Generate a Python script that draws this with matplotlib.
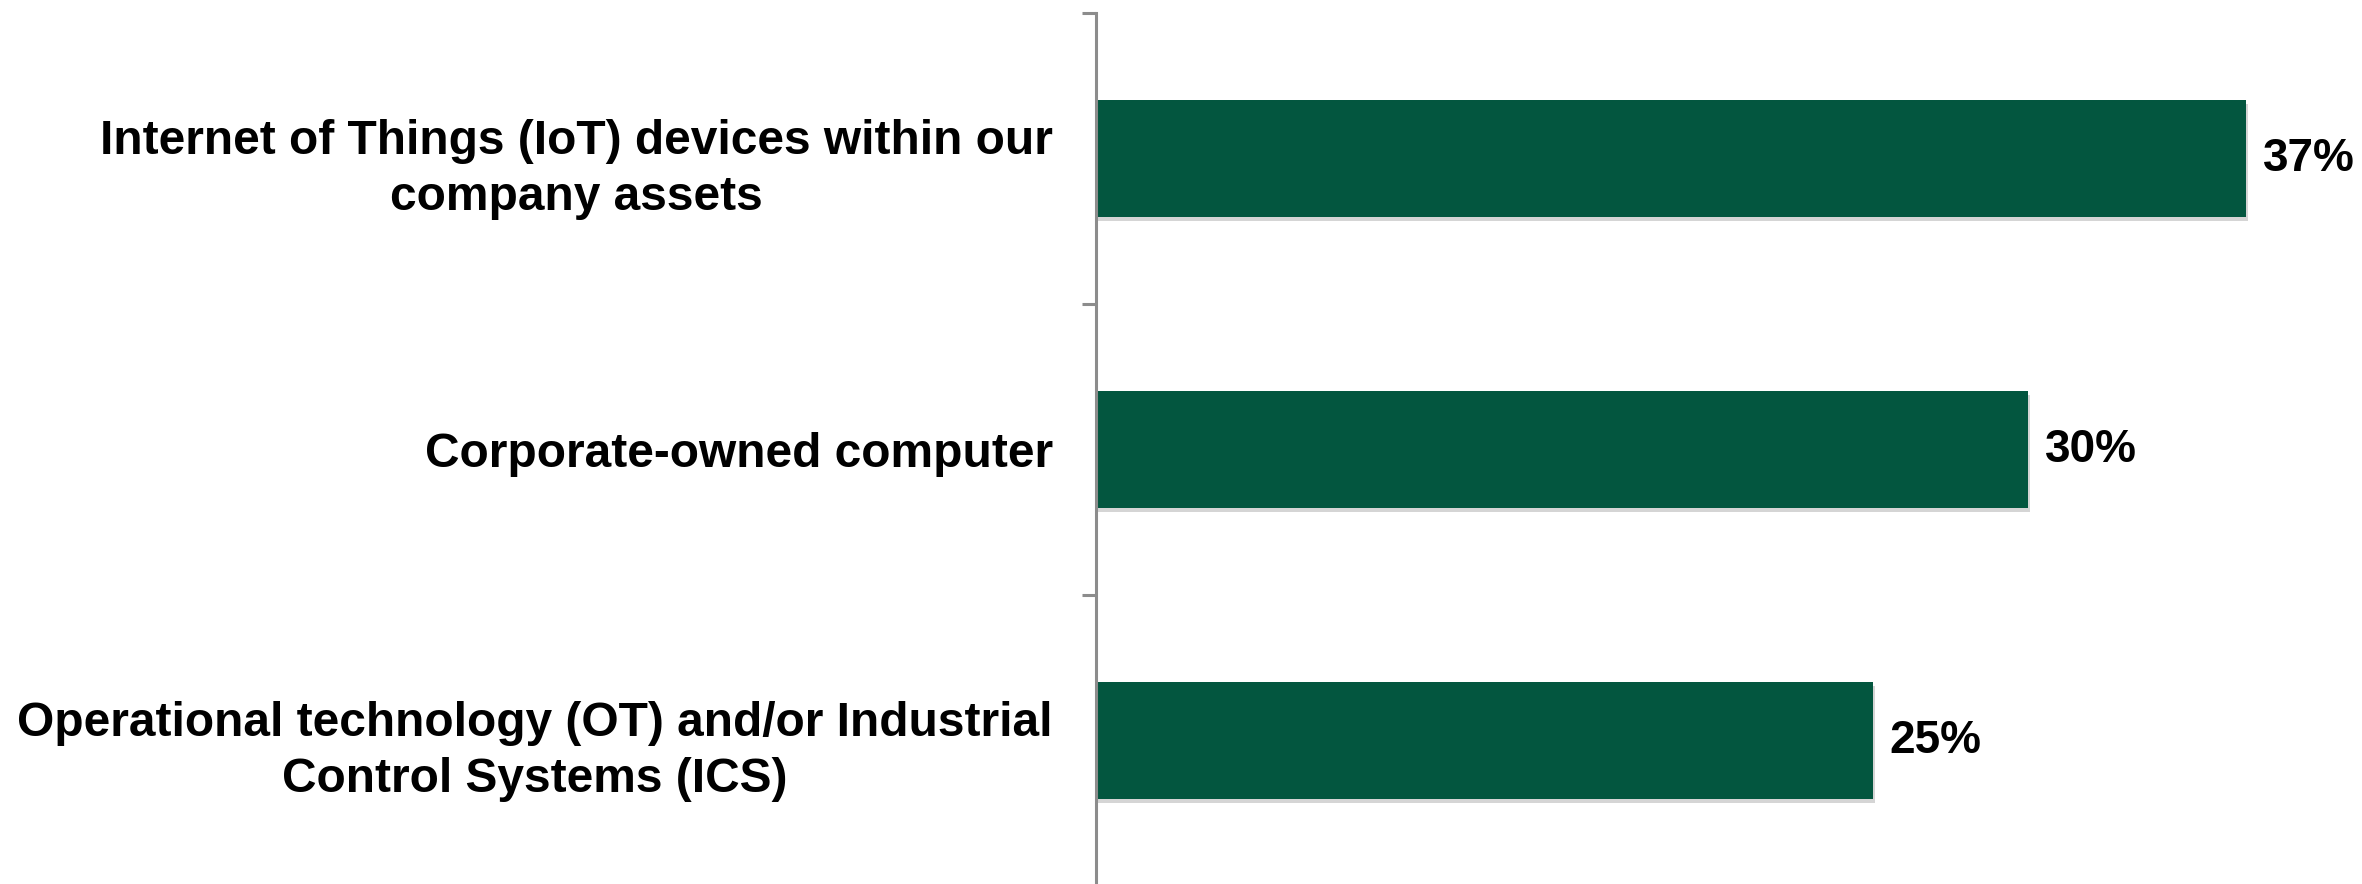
import matplotlib
matplotlib.use("Agg")
import matplotlib.pyplot as plt
import matplotlib.patheffects as pe

categories = [
    "Internet of Things (IoT) devices within our\ncompany assets",
    "Corporate-owned computer",
    "Operational technology (OT) and/or Industrial\nControl Systems (ICS)",
]
values = [37, 30, 25]
value_labels = ["37%", "30%", "25%"]

W, H = 2362, 884
fig = plt.figure(figsize=(W / 100, H / 100), dpi=100)
ax = fig.add_axes([1096 / W, 1 - 886 / H, (W - 1096) / W, (886 - 13) / H])

bar_color = "#03563F"
axis_color = "#8C8C8C"
font = "Liberation Sans"
fs = 34.5

pos = list(range(len(categories)))
bars = ax.barh(pos, values, height=0.40, color=bar_color,
               path_effects=[pe.SimplePatchShadow(offset=(1.5, -3), shadow_rgbFace="#888888", alpha=0.35),
                             pe.Normal()])

for p, v, lab in zip(pos, values, value_labels):
    ax.annotate(lab, xy=(v, p), xytext=(12, 0), textcoords="offset points",
                ha="left", va="center", fontsize=33, fontweight="bold",
                family=font, color="black")

ax.set_xlim(0, (W - 1096) / 31.08)
ax.set_ylim(2.5, -0.5)

for s in ["top", "right", "bottom"]:
    ax.spines[s].set_visible(False)
ax.spines["left"].set_color(axis_color)
ax.spines["left"].set_linewidth(2.2)
ax.set_xticks([])

ax.set_yticks([-0.5, 0.5, 1.5, 2.5])
ax.set_yticklabels([])
ax.tick_params(axis="y", which="major", length=10, width=2.2, color=axis_color)
ax.set_yticks(pos, minor=True)
ax.set_yticklabels(categories, minor=True, fontsize=fs, fontweight="bold", family=font)
ax.tick_params(axis="y", which="minor", length=0, pad=31)
for t in ax.get_yticklabels(minor=True):
    t.set_multialignment("center")
    t.set_linespacing(1.33)

fig.savefig("out.png", dpi=100, facecolor="white")
